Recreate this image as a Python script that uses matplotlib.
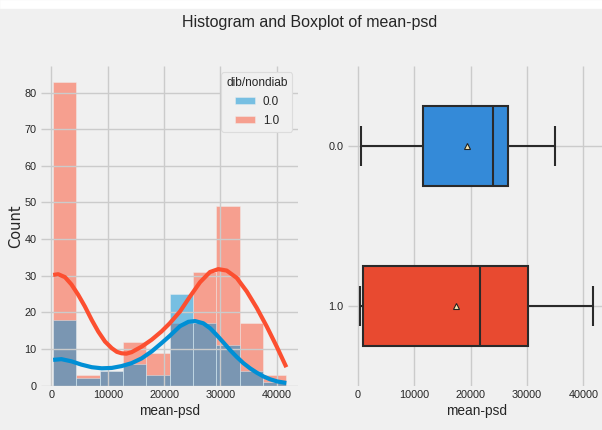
import matplotlib
matplotlib.use("Agg")
import matplotlib.pyplot as plt
from matplotlib.patches import Rectangle
import numpy as np

# histogram of mean-psd, 10 equal bins, per class
psd_min, psd_max = 300, 41700
counts_0 = [18, 2, 4, 6, 3, 25, 17, 11, 4, 1]
counts_1 = [83, 3, 4, 12, 9, 17, 31, 49, 17, 3]

# kde curves (scaled to counts)
kde_x_0 = [300, 1760, 3550, 5330, 7150, 8920, 10700, 12440, 14220, 16000,
           17780, 19560, 21030, 22810, 24300, 25500, 26950, 28200, 29330,
           30500, 31700, 32900, 34080, 35260, 36450, 37600, 38820, 40100, 41700]
kde_y_0 = [7.0, 7.2, 6.6, 5.7, 5.0, 4.7, 4.8, 5.3, 6.1, 7.4,
           9.3, 11.6, 13.6, 16.2, 17.4, 17.6, 17.0, 15.6, 13.8,
           11.8, 9.7, 7.8, 6.1, 4.7, 3.5, 2.5, 1.7, 1.1, 0.7]
kde_x_1 = [300, 1200, 2400, 3550, 4740, 5930, 7150, 8320, 9510, 10700,
           11600, 12440, 13300, 14220, 16000, 17780, 19560, 21000, 22810,
           24590, 26370, 28140, 29620, 31110, 32890, 34670, 36450, 38230,
           40000, 41700]
kde_y_1 = [30.2, 30.4, 29.6, 27.6, 24.8, 21.6, 17.9, 14.7, 12.0, 10.2,
           9.2, 8.8, 8.7, 9.1, 10.6, 12.5, 14.8, 17.0, 20.2,
           24.3, 28.2, 31.0, 31.8, 31.4, 29.4, 25.7, 21.2, 16.1,
           10.6, 5.0]

# boxplot summary per class
groups = ["0.0", "1.0"]
box_lo = [480, 300]
box_q1 = [11560, 840]
box_med = [23890, 21700]
box_q3 = [26610, 30230]
box_hi = [35030, 41700]
box_mean = [19440, 17490]

plt.style.use("fivethirtyeight")
plt.rcParams["font.family"] = ["Liberation Sans", "DejaVu Sans"]
plt.rcParams["axes.axisbelow"] = "line"

BG = "#f0f0f0"
BLUE = "#008fd5"
RED = "#fc4f30"
TXT = "#262626"
W, H = 602, 430

fig = plt.figure(figsize=(W / 100, H / 100), dpi=100)
fig.patch.set_facecolor(BG)
fig.patches.append(Rectangle((0, 1 - 8 / H), 1, 8 / H, transform=fig.transFigure,
                             color="white", zorder=-1))


def px_axes(x0, x1, y0, y1):
    return fig.add_axes([x0 / W, 1 - y1 / H, (x1 - x0) / W, (y1 - y0) / H])


ax_h = px_axes(41.5, 298, 66.5, 385.5)
ax_b = px_axes(348, 604.5, 66.5, 385.5)

for ax in (ax_h, ax_b):
    ax.set_facecolor(BG)
    ax.grid(True, color="#cbcbcb", linewidth=1)
    ax.tick_params(length=0, labelsize=7.8, pad=3.5, colors=TXT)
    for s in ax.spines.values():
        s.set_visible(False)

# --- histogram ---
edges = np.linspace(psd_min, psd_max, len(counts_0) + 1)
widths = np.diff(edges)
ax_h.bar(edges[:-1], counts_1, width=widths, align="edge", color=RED, alpha=0.5,
         edgecolor=BG, linewidth=0.6, label="1.0")
ax_h.bar(edges[:-1], counts_0, width=widths, align="edge", color=BLUE, alpha=0.5,
         edgecolor=BG, linewidth=0.6, label="0.0")
ax_h.plot(kde_x_1, kde_y_1, color=RED, linewidth=3, solid_capstyle="butt",
          solid_joinstyle="round")
ax_h.plot(kde_x_0, kde_y_0, color=BLUE, linewidth=3, solid_capstyle="butt",
          solid_joinstyle="round")
ax_h.set_yticks(range(0, 81, 10))
ax_h.set_xticks(range(0, 40001, 10000))
ax_h.set_ylim(0, max(counts_1) * 1.05)
ax_h.set_xlabel("mean-psd", fontsize=9.8, labelpad=2.5, color=TXT)
ax_h.set_ylabel("Count", fontsize=10.5, family="DejaVu Sans", color=TXT)
ax_h.yaxis.set_label_coords((23 - 41.5) / 256.5, 0.5)

hnd, lab = ax_h.get_legend_handles_labels()
leg = ax_h.legend(hnd[::-1], lab[::-1], title="dib/nondiab", loc="upper right",
                  fontsize=8.4, title_fontsize=8.6, frameon=True, facecolor=BG,
                  edgecolor="#dcdcdc", framealpha=1, borderaxespad=0.5,
                  handlelength=1.7, handleheight=0.55, labelspacing=0.6,
                  handletextpad=0.7)
leg.get_frame().set_linewidth(0.8)
for t in leg.get_texts() + [leg.get_title()]:
    t.set_color(TXT)

# --- boxplot ---
stats = []
for i in range(len(groups)):
    stats.append(dict(whislo=box_lo[i], q1=box_q1[i], med=box_med[i],
                      q3=box_q3[i], whishi=box_hi[i], mean=box_mean[i],
                      fliers=[], label=groups[i]))
line_c = "#2a2a2a"
bp = ax_b.bxp(stats, positions=range(len(groups)), widths=0.5, vert=False,
              patch_artist=True, showmeans=True, showfliers=False,
              capwidths=0.25,
              boxprops=dict(edgecolor=line_c, linewidth=1.5),
              medianprops=dict(color=line_c, linewidth=1.5),
              whiskerprops=dict(color=line_c, linewidth=1.5),
              capprops=dict(color=line_c, linewidth=1.5),
              meanprops=dict(marker="^", markersize=4, markerfacecolor="#f6e7b0",
                             markeredgecolor="#222222", markeredgewidth=0.8))
for patch, c in zip(bp["boxes"], ["#348ad8", "#e84a30"]):
    patch.set_facecolor(c)
ax_b.set_ylim(1.5, -0.5)
ax_b.set_yticks(range(len(groups)))
ax_b.set_yticklabels(groups)
ax_b.set_xticks(range(0, 40001, 10000))
ax_b.set_xlim(ax_h.get_xlim())
ax_b.set_xlabel("mean-psd", fontsize=9.8, labelpad=2.5, color=TXT)

fig.text(310 / W, 1 - 22 / H, "Histogram and Boxplot of mean-psd", ha="center",
         va="center", fontsize=11.5, color=TXT)

fig.savefig("out.png", dpi=100, facecolor=fig.get_facecolor())
